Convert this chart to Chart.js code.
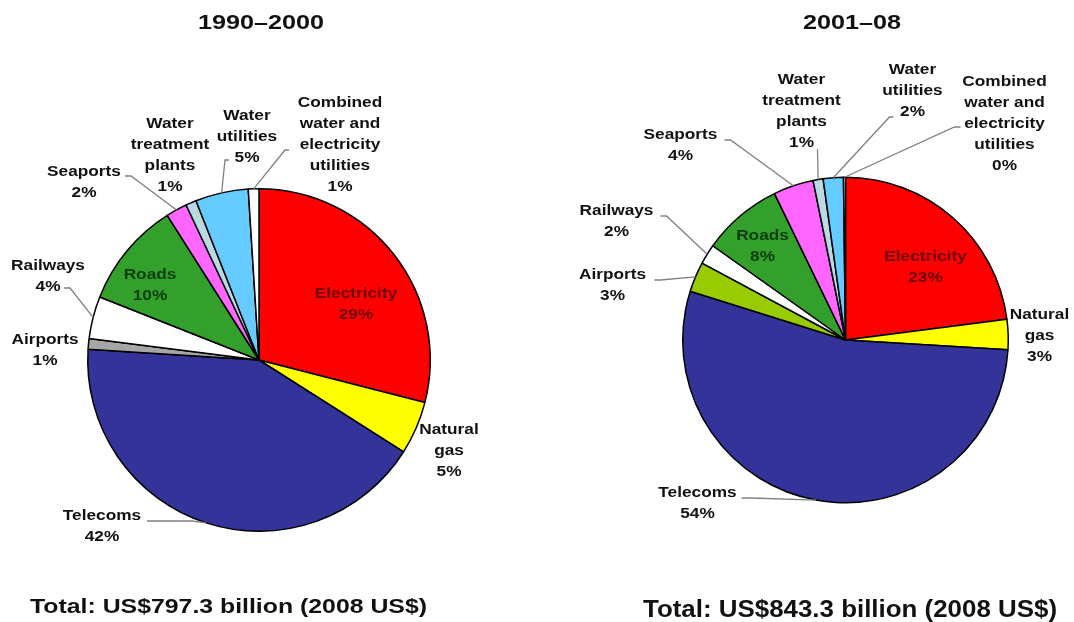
<!DOCTYPE html>
<html>
<head>
<meta charset="utf-8">
<script src="https://cdn.jsdelivr.net/npm/chart.js@4"></script>
<style>
  html, body { margin: 0; padding: 0; background: #fff; }
  #wrap { position: relative; width: 1074px; height: 622px; overflow: hidden; }
  canvas { position: absolute; top: 0; }
</style>
</head>
<body>
<div id="wrap">
  <canvas id="left" width="537" height="622" style="left:0"></canvas>
  <canvas id="right" width="537" height="622" style="left:537px"></canvas>
</div>
<script>
// categories (multi-line labels, as printed beside the slices)
const categories = [
  ['Electricity'],
  ['Natural', 'gas'],
  ['Telecoms'],
  ['Airports'],
  ['Railways'],
  ['Roads'],
  ['Seaports'],
  ['Water', 'treatment', 'plants'],
  ['Water', 'utilities'],
  ['Combined', 'water and', 'electricity', 'utilities']
];

// share of total investment, %
const shares1990 = [29, 5, 42, 1, 4, 10, 2, 1, 5, 1];
const shares2001 = [23, 3, 54, 3, 2, 8, 4, 1, 2, 0.2];

const titles = ['1990\u20132000', '2001\u201308'];
const totals = ['Total: US$797.3 billion (2008 US$)', 'Total: US$843.3 billion (2008 US$)'];

// colours
const colors1990 = ['#ff0000', '#ffff00', '#333399', '#a6a6a6', '#ffffff', '#33a02c', '#ff66ff', '#b9d9e3', '#66ccff', '#ffffff'];
const colors2001 = ['#ff0000', '#ffff00', '#333399', '#99cc00', '#ffffff', '#33a02c', '#ff66ff', '#b9d9e3', '#66ccff', '#ffffff'];

// label placement, relative to the pie centre: at = first text line, lead = leader start [dx, dy, elbow]
const place1990 = [
  { at: [97, -66], color: '#6e0000' },
  { at: [190, 70] },
  { at: [-157, 156], lead: [-112, 161, 45] },
  { at: [-214, -20] },
  { at: [-211, -94], lead: [-195, -72, 6] },
  { at: [-109, -85], color: '#0d3d0d' },
  { at: [-175, -188], lead: [-134, -184, 6] },
  { at: [-89, -236] },
  { at: [-12, -244], lead: [-30, -200, -4] },
  { at: [81, -257], lead: [30, -210, -4] }
];
const place2001 = [
  { at: [80, -83], color: '#6e0000' },
  { at: [194, -25] },
  { at: [-148, 153], lead: [-104, 158, 10] },
  { at: [-233, -65], lead: [-191, -60, 6] },
  { at: [-229, -129], lead: [-185, -124, 6] },
  { at: [-83, -104], color: '#0d3d0d' },
  { at: [-165, -205], lead: [-121, -200, 6] },
  { at: [-44, -260], lead: [-28, -191, 0] },
  { at: [67, -270], lead: [48, -223, -4] },
  { at: [159, -258], lead: [115, -213, -6] }
];

function stretchText(ctx, text, x, y, sx) {
  ctx.save();
  ctx.translate(x, y);
  ctx.scale(sx, 1);
  ctx.fillText(text, 0, 0);
  ctx.restore();
}

const sliceLabels = {
  id: 'sliceLabels',
  afterDraw(chart, args, opts) {
    const ctx = chart.ctx;
    const meta = chart.getDatasetMeta(0);
    const values = chart.data.datasets[0].data;
    ctx.save();
    meta.data.forEach((arc, i) => {
      const p = opts.place[i];
      const a = arc.getProps(['x', 'y', 'startAngle', 'endAngle', 'outerRadius'], true);
      const mid = (a.startAngle + a.endAngle) / 2;
      if (p.lead) {
        const ex = a.x + Math.cos(mid) * a.outerRadius;
        const ey = a.y + Math.sin(mid) * a.outerRadius;
        const sx = a.x + p.lead[0], sy = a.y + p.lead[1];
        ctx.beginPath();
        ctx.moveTo(sx, sy);
        ctx.lineTo(sx + p.lead[2], sy);
        ctx.lineTo(ex, ey);
        ctx.strokeStyle = '#808080';
        ctx.lineWidth = 1.3;
        ctx.stroke();
      }
      const lines = [].concat(chart.data.labels[i], Math.round(values[i]) + '%');
      ctx.fillStyle = p.color || '#111';
      ctx.font = 'bold 15px "Liberation Sans", Arial, sans-serif';
      ctx.textAlign = 'center';
      ctx.textBaseline = 'middle';
      lines.forEach((t, k) => stretchText(ctx, t, a.x + p.at[0], a.y + p.at[1] + k * 21, 1.15));
    });

    // heading and total
    ctx.fillStyle = '#111';
    ctx.textBaseline = 'alphabetic';
    ctx.textAlign = 'center';
    ctx.font = 'bold 21px "Liberation Sans", Arial, sans-serif';
    stretchText(ctx, opts.title, opts.titleX, 29, 1.2);
    ctx.textAlign = 'left';
    ctx.font = 'bold ' + opts.totalSize + 'px "Liberation Sans", Arial, sans-serif';
    const w = ctx.measureText(opts.total).width;
    stretchText(ctx, opts.total, opts.totalX, opts.totalY, opts.totalW / w);
    ctx.restore();
  }
};

function makePie(id, values, colors, place, pad, extra) {
  return new Chart(document.getElementById(id), {
    type: 'pie',
    data: {
      labels: categories,
      datasets: [{
        data: values,
        backgroundColor: colors,
        borderColor: '#000',
        borderWidth: 1.5
      }]
    },
    options: {
      responsive: false,
      animation: false,
      layout: { padding: pad },
      plugins: {
        legend: { display: false },
        tooltip: { enabled: false },
        sliceLabels: Object.assign({ place: place }, extra)
      }
    },
    plugins: [sliceLabels]
  });
}

makePie('left', shares1990, colors1990, place1990,
  { left: 87, right: 106, top: 187, bottom: 89 },
  { title: titles[0], titleX: 261, total: totals[0], totalX: 30, totalY: 613, totalW: 397, totalSize: 21 });

makePie('right', shares2001, colors2001, place2001,
  { left: 145, right: 65, top: 173, bottom: 115 },
  { title: titles[1], titleX: 315, total: totals[1], totalX: 106, totalY: 617, totalW: 414, totalSize: 23 });
</script>
</body>
</html>
